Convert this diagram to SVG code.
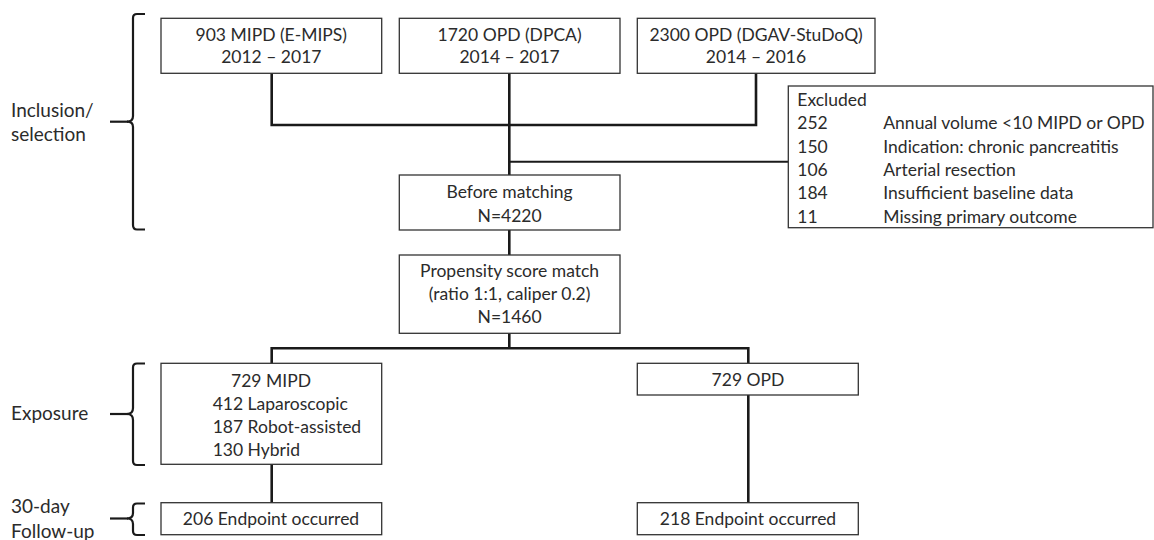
<svg xmlns="http://www.w3.org/2000/svg" width="1154" height="540" viewBox="0 0 1154 540">
<style>
text{font-family:Lato,"Liberation Sans",sans-serif;font-size:17.5px;fill:#2b2b2b}
.lab{font-size:19px}
.c{text-anchor:middle}
.box{fill:#fff;stroke:#333;stroke-width:1.3}
.con{fill:none;stroke:#1a1a1a;stroke-width:2.6}
.br{fill:none;stroke:#1a1a1a;stroke-width:2.2}
</style>
<rect width="1154" height="540" fill="#fff"/>
<g id="connectors">
<path class="con" d="M271.7 73V125H756V73"/>
<path class="con" d="M509.3 73V175"/>
<path class="con" d="M509.3 161.7H788" style="stroke-width:2"/>
<path class="con" d="M509.3 230V255"/>
<path class="con" d="M509.3 333V348.3"/>
<path class="con" d="M271.7 363V348.3H748.3V363"/>
<path class="con" d="M271.7 464V503"/>
<path class="con" d="M748.3 395V503"/>
</g>
<g id="brackets">
<path class="br" d="M145 14H137Q133 14 133 18V116Q133 121.7 127 121.7Q133 121.7 133 127V225Q133 229.5 137 229.5H145"/>
<path class="br" d="M110 121.7H128"/>
<path class="br" d="M145 363.5H137Q133 363.5 133 367.5V408Q133 414 127 414Q133 414 133 420V461Q133 465 137 465H145"/>
<path class="br" d="M110 414H128"/>
<path class="br" d="M145 503.5H137Q133 503.5 133 507.5V513Q133 518.5 127 518.5Q133 518.5 133 524V531Q133 535 137 535H145"/>
<path class="br" d="M110 518.5H128"/>
</g>
<g id="label-inclusion"><text class="lab" x="11" y="117">Inclusion/</text><text class="lab" x="11" y="141">selection</text></g>
<g id="label-exposure"><text class="lab" x="11" y="420">Exposure</text></g>
<g id="label-followup"><text class="lab" x="11" y="513">30-day</text><text class="lab" x="11" y="538">Follow-up</text></g>
<g id="n-mipd-src"><rect class="box" x="161" y="18.3" width="220.7" height="55"/><text class="c" x="271.3" y="40.5">903 MIPD (E-MIPS)</text><text class="c" x="271.3" y="63.3">2012 – 2017</text></g>
<g id="n-dpca"><rect class="box" x="399.3" y="18.3" width="220.7" height="55"/><text class="c" x="509.6" y="40.5">1720 OPD (DPCA)</text><text class="c" x="509.6" y="63.3">2014 – 2017</text></g>
<g id="n-dgav"><rect class="box" x="637.3" y="18.3" width="237.7" height="55"/><text class="c" x="756" y="40.5">2300 OPD (DGAV-StuDoQ)</text><text class="c" x="756" y="63.3">2014 – 2016</text></g>
<g id="n-excluded"><rect class="box" x="788.3" y="86" width="364.7" height="141.7"/>
<text x="797.3" y="106">Excluded</text>
<text x="797.3" y="129.3">252</text><text x="883.3" y="129.3">Annual volume &lt;10 MIPD or OPD</text>
<text x="797.3" y="152.7">150</text><text x="883.3" y="152.7">Indication: chronic pancreatitis</text>
<text x="797.3" y="176">106</text><text x="883.3" y="176">Arterial resection</text>
<text x="797.3" y="199.3">184</text><text x="883.3" y="199.3">Insufficient baseline data</text>
<text x="797.3" y="222.5">11</text><text x="883.3" y="222.5">Missing primary outcome</text></g>
<g id="n-before"><rect class="box" x="399.3" y="175" width="220.7" height="55"/><text class="c" x="509.6" y="198.3">Before matching</text><text class="c" x="509.6" y="221.7">N=4220</text></g>
<g id="n-psm"><rect class="box" x="399.3" y="255" width="220.7" height="78.3"/><text class="c" x="509.6" y="276.7">Propensity score match</text><text class="c" x="509.6" y="300">(ratio 1:1, caliper 0.2)</text><text class="c" x="509.6" y="322.7">N=1460</text></g>
<g id="n-mipd"><rect class="box" x="161" y="363.3" width="220.7" height="101"/><text class="c" x="271" y="386.5">729 MIPD</text><text x="212.7" y="409.5">412 Laparoscopic</text><text x="212.7" y="432.5">187 Robot-assisted</text><text x="212.7" y="455.5">130 Hybrid</text></g>
<g id="n-opd"><rect class="box" x="637.3" y="363.3" width="221" height="31.7"/><text class="c" x="748" y="386.3">729 OPD</text></g>
<g id="n-end-mipd"><rect class="box" x="161" y="502.7" width="220.7" height="32"/><text class="c" x="271" y="525">206 Endpoint occurred</text></g>
<g id="n-end-opd"><rect class="box" x="637.3" y="502.7" width="221" height="32"/><text class="c" x="748" y="525">218 Endpoint occurred</text></g>
</svg>
